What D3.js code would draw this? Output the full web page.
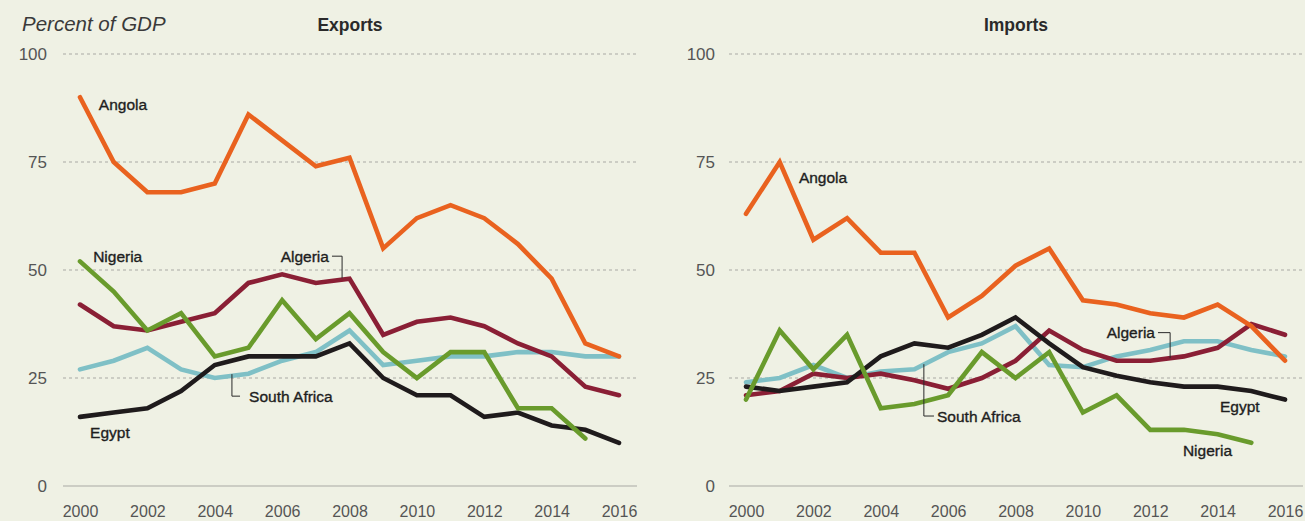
<!DOCTYPE html>
<html>
<head>
<meta charset="utf-8">
<script src="https://cdn.jsdelivr.net/npm/d3@7"></script>
<style>
  html, body { margin: 0; padding: 0; background: #eff1e4; }
  svg { display: block; }
  text { font-family: "Liberation Sans", Arial, sans-serif; }
</style>
</head>
<body>
<div id="chart"></div>
<script>
// years on the x axis
var years = d3.range(2000, 2017);
var xTicks = [2000, 2002, 2004, 2006, 2008, 2010, 2012, 2014, 2016];
var yTicks = [0, 25, 50, 75, 100];

// Exports, percent of GDP
var exportsAngola = [90, 75, 68, 68, 70, 86, 80, 74, 76, 55, 62, 65, 62, 56, 48, 33, 30];
var exportsNigeria = [52, 45, 36, 40, 30, 32, 43, 34, 40, 31, 25, 31, 31, 18, 18, 11];
var exportsAlgeria = [42, 37, 36, 38, 40, 47, 49, 47, 48, 35, 38, 39, 37, 33, 30, 23, 21];
var exportsSouthAfrica = [27, 29, 32, 27, 25, 26, 29, 31, 36, 28, 29, 30, 30, 31, 31, 30, 30];
var exportsEgypt = [16, 17, 18, 22, 28, 30, 30, 30, 33, 25, 21, 21, 16, 17, 14, 13, 10];

// Imports, percent of GDP
var importsAngola = [63, 75, 57, 62, 54, 54, 39, 44, 51, 55, 43, 42, 40, 39, 42, 37, 29];
var importsNigeria = [20, 36, 27, 35, 18, 19, 21, 31, 25, 31, 17, 21, 13, 13, 12, 10];
var importsAlgeria = [21, 22, 26, 25, 26, 24.5, 22.5, 25, 29, 36, 31.5, 29, 29, 30, 32, 37.5, 35];
var importsSouthAfrica = [24, 25, 28, 25, 26.5, 27, 31, 33, 37, 28, 27.5, 30, 31.5, 33.5, 33.5, 31.5, 30];
var importsEgypt = [23, 22, 23, 24, 30, 33, 32, 35, 39, 33, 27.5, 25.5, 24, 23, 23, 22, 20];

var colors = {
    "Angola": "#e9621f",
    "Nigeria": "#699b2c",
    "Algeria": "#8a1f35",
    "South Africa": "#7fc0c6",
    "Egypt": "#1f1b1c"
};

// drawing order: first drawn is at the bottom
var exportsSeries = [
    { name: "South Africa", values: exportsSouthAfrica },
    { name: "Algeria", values: exportsAlgeria },
    { name: "Angola", values: exportsAngola },
    { name: "Egypt", values: exportsEgypt },
    { name: "Nigeria", values: exportsNigeria }
];
var importsSeries = [
    { name: "South Africa", values: importsSouthAfrica },
    { name: "Algeria", values: importsAlgeria },
    { name: "Angola", values: importsAngola },
    { name: "Egypt", values: importsEgypt },
    { name: "Nigeria", values: importsNigeria }
];

// series labels, placed in data units (year, percent)
var exportsLabels = [
    { text: "Angola", year: 2000.56, value: 88.4, anchor: "start" },
    { text: "Nigeria", year: 2000.39, value: 53.2, anchor: "start" },
    { text: "Algeria", year: 2007.39, value: 53.2, anchor: "end", leader: [[2007.48, 53.2], [2007.78, 53.2], [2007.78, 48.1]] },
    { text: "South Africa", year: 2005.02, value: 20.8, anchor: "start", leader: [[2004.51, 25.9], [2004.51, 20.8], [2004.75, 20.8]] },
    { text: "Egypt", year: 2000.3, value: 12.5, anchor: "start" }
];
var importsLabels = [
    { text: "Angola", year: 2001.57, value: 71.5, anchor: "start" },
    { text: "Algeria", year: 2012.14, value: 35.5, anchor: "end", leader: [[2012.23, 35.5], [2012.59, 35.5], [2012.59, 29.6]] },
    { text: "South Africa", year: 2005.67, value: 16.2, anchor: "start", leader: [[2005.28, 28.2], [2005.28, 16.2], [2005.58, 16.2]] },
    { text: "Egypt", year: 2014.07, value: 18.5, anchor: "start" },
    { text: "Nigeria", year: 2012.97, value: 8.2, anchor: "start" }
];

var width = 1305, height = 521;

var svg = d3.select("#chart").append("svg")
    .attr("width", width)
    .attr("height", height);

svg.append("text")
    .attr("x", 22)
    .attr("y", 31)
    .attr("font-size", 20.5)
    .attr("font-style", "italic")
    .attr("fill", "#3a3a3a")
    .text("Percent of GDP");

function drawPanel(title, series, labels, x0, x1, labelRight) {
    var x = d3.scaleLinear().domain([2000, 2016]).range([x0, x1]);
    var y = d3.scaleLinear().domain([0, 100]).range([486, 54]);

    var g = svg.append("g");
    var gridLeft = x0 - 17, gridRight = Math.min(x1 + 18, width);

    // title over the plot area
    g.append("text")
        .attr("x", (gridLeft + gridRight) / 2)
        .attr("y", 31)
        .attr("text-anchor", "middle")
        .attr("font-size", 17.5)
        .attr("font-weight", "bold")
        .attr("fill", "#2a2a2a")
        .text(title);

    // horizontal grid
    g.selectAll(".grid")
        .data(yTicks)
        .enter().append("line")
        .attr("x1", gridLeft)
        .attr("x2", gridRight)
        .attr("y1", function (d) { return y(d); })
        .attr("y2", function (d) { return y(d); })
        .attr("stroke", "#a9aaa4")
        .attr("stroke-width", 1.2)
        .attr("stroke-dasharray", function (d) { return d == 0 ? null : "3,3"; });

    // y tick labels
    g.selectAll(".ylab")
        .data(yTicks)
        .enter().append("text")
        .attr("x", labelRight)
        .attr("y", function (d) { return y(d) + 6; })
        .attr("text-anchor", "end")
        .attr("font-size", 17)
        .attr("fill", "#555")
        .text(function (d) { return d; });

    // x axis labels
    var xAxis = d3.axisBottom(x).tickValues(xTicks).tickFormat(d3.format("d")).tickSize(0).tickPadding(0);
    var ax = g.append("g")
        .attr("transform", "translate(0,506)")
        .call(xAxis);
    ax.select(".domain").remove();
    ax.selectAll("text")
        .attr("font-size", 16)
        .attr("font-family", "'Liberation Sans', Arial, sans-serif")
        .attr("fill", "#555")
        .attr("dy", "0.71em");

    var line = d3.line()
        .x(function (d, i) { return x(years[i]); })
        .y(function (d) { return y(d); });

    g.selectAll(".series")
        .data(series)
        .enter().append("path")
        .attr("fill", "none")
        .attr("stroke", function (d) { return colors[d.name]; })
        .attr("stroke-width", 4.6)
        .attr("stroke-linejoin", "miter")
        .attr("stroke-linecap", "round")
        .attr("d", function (d) { return line(d.values); });

    // leader lines
    var leader = d3.line()
        .x(function (d) { return x(d[0]); })
        .y(function (d) { return y(d[1]); });
    g.selectAll(".leader")
        .data(labels.filter(function (d) { return d.leader; }))
        .enter().append("path")
        .attr("fill", "none")
        .attr("stroke", "#2a2a2a")
        .attr("stroke-width", 1)
        .attr("d", function (d) { return leader(d.leader); });

    g.selectAll(".label")
        .data(labels)
        .enter().append("text")
        .attr("x", function (d) { return x(d.year); })
        .attr("y", function (d) { return y(d.value) + 5.5; })
        .attr("text-anchor", function (d) { return d.anchor; })
        .attr("font-size", 15.5)
        .attr("fill", "#1e1e1e")
        .attr("stroke", "#1e1e1e")
        .attr("stroke-width", 0.35)
        .text(function (d) { return d.text; });
}

drawPanel("Exports", exportsSeries, exportsLabels, 80, 619, 47);
drawPanel("Imports", importsSeries, importsLabels, 746, 1285, 715);
</script>
</body>
</html>
